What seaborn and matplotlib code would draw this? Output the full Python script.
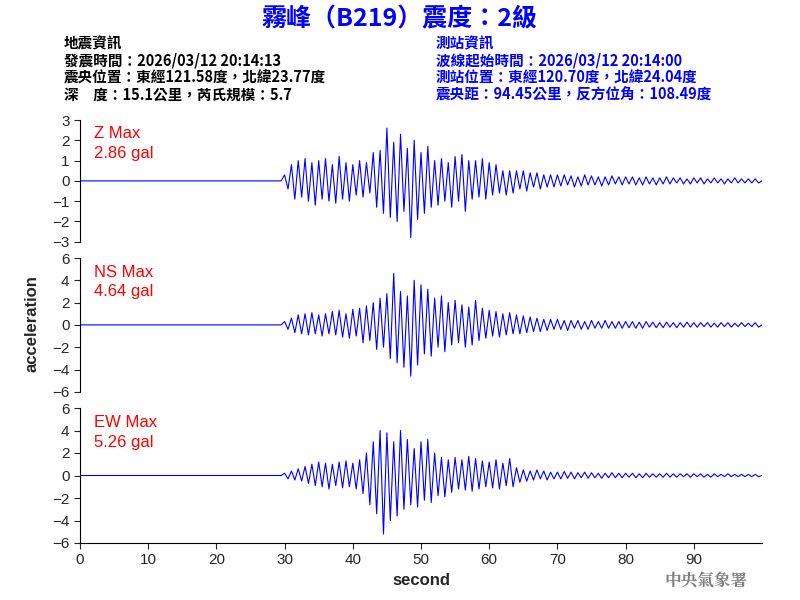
import matplotlib
matplotlib.use("Agg")
import matplotlib.pyplot as plt
import numpy as np
import seaborn as sns

sns.set_style("white")
plt.rcParams["font.family"] = ["Liberation Sans", "Noto Sans CJK TC", "DejaVu Sans"]

# peak values, every 0.5 s from 30 s; quiet (0) before 30 s
t_start = 30.0
z_peaks = [0.3, -0.4, 0.8, -0.9, 1.0, -0.8, 1.1, -1.0, 0.9, -1.2,
           1.0, -0.9, 1.1, -1.0, 0.8, -1.1, 1.2, -0.9, 0.9, -1.0,
           0.8, -0.7, 1.0, -0.8, 0.9, -0.6, 1.4, -1.3, 1.5, -1.6,
           2.6, -1.8, 1.9, -2.0, 2.3, -1.5, 1.6, -2.8, 2.0, -1.9,
           1.4, -1.6, 1.7, -1.3, 1.0, -1.2, 1.1, -1.0, 0.9, -1.3,
           1.2, -1.0, 1.3, -1.5, 1.0, -0.9, 1.0, -0.8, 1.1, -0.9,
           0.9, -0.7, 0.8, -0.6, 0.5, -0.7, 0.5, -0.6, 0.5, -0.4,
           0.5, -0.5, 0.4, -0.3, 0.4, -0.4, 0.3, -0.3, 0.3, -0.3,
           0.3, -0.25, 0.3, -0.2, 0.25, -0.3, 0.2, -0.25, 0.3, -0.2,
           0.25, -0.2, 0.2, -0.25, 0.2, -0.2, 0.25, -0.15, 0.2, -0.2,
           0.2, -0.15, 0.2, -0.2, 0.15, -0.2, 0.2, -0.15, 0.15, -0.2,
           0.15, -0.15, 0.2, -0.15, 0.15, -0.1, 0.15, -0.15, 0.1, -0.15,
           0.15, -0.1, 0.15, -0.15, 0.1, -0.1, 0.15, -0.1, 0.1, -0.15,
           0.1, -0.1, 0.15, -0.1, 0.1, -0.1, 0.1, -0.1, 0.1, -0.1]
ns_peaks = [0.3, -0.4, 0.6, -0.7, 0.9, -0.8, 1.0, -0.9, 1.1, -0.8,
            0.9, -1.0, 1.0, -0.8, 1.2, -0.9, 1.3, -1.1, 1.0, -1.2,
            1.4, -1.0, 1.5, -1.6, 1.7, -1.4, 2.0, -2.2, 2.4, -2.0,
            2.8, -3.0, 4.6, -3.4, 3.0, -3.8, 2.6, -4.6, 4.0, -3.6,
            3.6, -2.6, 3.2, -2.8, 2.4, -2.0, 2.6, -2.4, 2.0, -1.8,
            2.2, -1.6, 1.8, -2.0, 1.6, -1.8, 2.2, -1.4, 1.5, -1.2,
            1.3, -1.0, 1.2, -1.1, 1.0, -0.9, 1.1, -0.8, 0.9, -0.8,
            0.8, -0.7, 0.7, -0.6, 0.6, -0.6, 0.5, -0.5, 0.5, -0.4,
            0.5, -0.4, 0.4, -0.5, 0.4, -0.3, 0.4, -0.4, 0.3, -0.4,
            0.4, -0.3, 0.3, -0.3, 0.4, -0.3, 0.3, -0.3, 0.3, -0.3,
            0.3, -0.25, 0.3, -0.3, 0.25, -0.3, 0.3, -0.2, 0.25, -0.25,
            0.2, -0.25, 0.25, -0.2, 0.2, -0.25, 0.2, -0.2, 0.25, -0.2,
            0.2, -0.2, 0.2, -0.15, 0.2, -0.2, 0.15, -0.2, 0.2, -0.15,
            0.2, -0.2, 0.15, -0.15, 0.2, -0.15, 0.15, -0.15, 0.2, -0.2]
ew_peaks = [0.2, -0.3, 0.4, -0.4, 0.6, -0.5, 0.8, -0.7, 1.0, -0.9,
            1.2, -1.0, 1.1, -1.2, 1.0, -0.9, 1.2, -1.1, 1.3, -1.0,
            1.1, -1.2, 1.4, -1.6, 2.0, -2.6, 3.0, -3.4, 4.0, -5.2,
            3.8, -4.0, 3.0, -3.6, 4.0, -3.0, 3.2, -2.6, 2.4, -2.8,
            3.0, -2.2, 3.2, -2.4, 2.0, -1.8, 1.6, -1.9, 1.4, -1.5,
            1.6, -1.2, 1.4, -1.3, 1.7, -1.4, 1.5, -1.2, 1.3, -1.0,
            1.2, -1.1, 1.4, -1.2, 1.1, -0.9, 1.5, -1.0, 0.7, -0.6,
            0.5, -0.5, 0.4, -0.4, 0.5, -0.3, 0.4, -0.4, 0.3, -0.3,
            0.3, -0.3, 0.35, -0.25, 0.3, -0.3, 0.25, -0.2, 0.3, -0.25,
            0.25, -0.2, 0.2, -0.25, 0.2, -0.2, 0.25, -0.2, 0.2, -0.2,
            0.2, -0.15, 0.2, -0.2, 0.15, -0.2, 0.2, -0.15, 0.15, -0.15,
            0.15, -0.15, 0.2, -0.15, 0.15, -0.15, 0.15, -0.1, 0.15, -0.15,
            0.15, -0.1, 0.15, -0.15, 0.1, -0.15, 0.15, -0.1, 0.1, -0.1,
            0.15, -0.1, 0.1, -0.1, 0.1, -0.1, 0.1, -0.1, 0.1, -0.1]

components = ["Z", "NS", "EW"]
max_gal = [2.86, 4.64, 5.26]
y_limits = [(-3, 3), (-6, 6), (-6, 6)]
y_ticks = [np.arange(-3, 4, 1), np.arange(-6, 7, 2), np.arange(-6, 7, 2)]
traces = [z_peaks, ns_peaks, ew_peaks]

fig = plt.figure(figsize=(8, 6), dpi=100)
boxes = [[0.1, 0.597, 0.8525, 0.203],
         [0.1, 0.347, 0.8525, 0.223],
         [0.1, 0.095, 0.8525, 0.225]]

for i, (comp, vals) in enumerate(zip(components, traces)):
    ax = fig.add_axes(boxes[i])
    t = np.concatenate([[0.0, t_start - 0.5], t_start + 0.5 * np.arange(len(vals)), [100.0]])
    y = np.concatenate([[0.0, 0.0], vals, [0.0]])
    sns.lineplot(x=t, y=y, ax=ax, color="blue", linewidth=0.8, estimator=None, sort=False)
    ax.set_xlim(0, 100)
    ax.set_ylim(*y_limits[i])
    ax.set_yticks(y_ticks[i])
    ax.tick_params(axis="y", labelsize=11, length=4, direction="out", left=True)
    for s in ("top", "right"):
        ax.spines[s].set_visible(False)
    ax.spines["left"].set_color("black")
    ax.text(0.02, 0.95, f"{comp} Max\n{max_gal[i]:.2f} gal", transform=ax.transAxes,
            color="red", fontsize=12, va="top", linespacing=1.4)
    if i < 2:
        ax.spines["bottom"].set_visible(False)
        ax.set_xticks([])
    else:
        ax.spines["bottom"].set_color("black")
        ax.set_xticks(np.arange(0, 100, 10))
        ax.tick_params(axis="x", labelsize=11, length=4, bottom=True)
        ax.set_xlabel("second", fontsize=12, fontweight="bold")
    ax.set_ylabel("")

fig.text(0.04, 0.46, "acceleration", rotation=90, fontsize=12, ha="center", va="center",
         fontweight="bold")
fig.text(0.5, 0.968, "霧峰（B219）震度：2級", color="blue", fontsize=18, fontweight="bold",
         ha="center", va="center", family=["Noto Sans CJK TC"])

left_info = ["地震資訊", "發震時間：2026/03/12 20:14:13", "震央位置：東經121.58度，北緯23.77度",
             "深　度：15.1公里，芮氏規模：5.7"]
right_info = ["測站資訊", "波線起始時間：2026/03/12 20:14:00", "測站位置：東經120.70度，北緯24.04度",
              "震央距：94.45公里，反方位角：108.49度"]
for k, (l, r) in enumerate(zip(left_info, right_info)):
    yy = 0.928 - k * 0.0285
    fig.text(0.08, yy, l, fontsize=10.5, color="black", va="center", fontweight="bold",
             family=["Noto Sans CJK TC"])
    fig.text(0.545, yy, r, fontsize=10.5, color="blue", va="center", fontweight="bold",
             family=["Noto Sans CJK TC"])

fig.text(0.935, 0.032, "中央氣象署", color="gray", fontsize=12, ha="right", va="center",
         family=["Noto Serif CJK TC", "Noto Sans CJK TC"], fontweight="bold")

fig.savefig("out.png", dpi=100)
